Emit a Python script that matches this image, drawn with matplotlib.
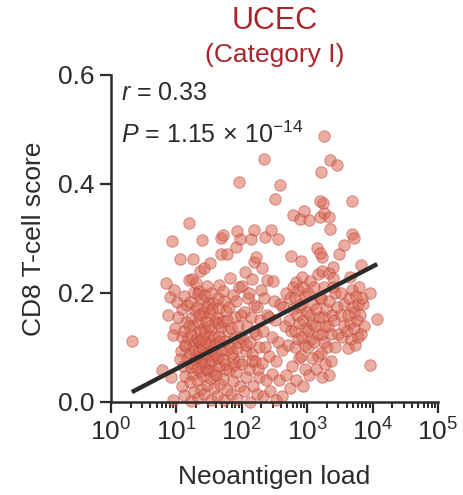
import numpy as np
import matplotlib
matplotlib.use("Agg")
import matplotlib.pyplot as plt
from matplotlib.ticker import FixedLocator, LogLocator, NullFormatter

plt.rcParams["font.family"] = ["Liberation Sans", "DejaVu Sans"]
plt.rcParams["mathtext.fontset"] = "custom"
plt.rcParams["mathtext.rm"] = "Liberation Sans"
plt.rcParams["mathtext.it"] = "Liberation Sans:italic"

# ── Data: (log10 neoantigen load, CD8 T-cell score) ─────────────────────────

low_load = [
    (0.32, 0.112), (0.78, 0.058), (0.84, 0.218), (0.90, 0.193), (0.88, 0.160),
    (0.94, 0.295), (0.95, 0.004), (0.92, 0.046), (0.97, 0.205), (1.01, 0.183),
    (1.02, 0.156), (0.98, 0.136), (0.95, 0.123), (1.09, 0.119), (1.06, 0.262),
]

mid_load = [
    # 10^1.1
    (1.12, 0.012), (1.08, 0.030), (1.14, 0.047), (1.10, 0.066), (1.16, 0.081),
    (1.07, 0.093), (1.13, 0.104), (1.18, 0.117), (1.11, 0.131), (1.15, 0.146),
    (1.08, 0.170), (1.17, 0.178), (1.12, 0.194), (1.19, 0.224), (1.19, 0.328),
    (1.14, 0.102), (1.06, 0.078),
    # 10^1.2
    (1.22, 0.002), (1.27, 0.018), (1.21, 0.036), (1.26, 0.052), (1.23, 0.064),
    (1.29, 0.077), (1.21, 0.089), (1.25, 0.100), (1.28, 0.112), (1.22, 0.124),
    (1.26, 0.139), (1.23, 0.154), (1.29, 0.168), (1.21, 0.183), (1.27, 0.202),
    (1.24, 0.226), (1.26, 0.262), (1.28, 0.095), (1.24, 0.071), (1.20, 0.140),
    # 10^1.3
    (1.33, 0.008), (1.37, 0.024), (1.31, 0.041), (1.36, 0.056), (1.39, 0.069),
    (1.32, 0.083), (1.35, 0.094), (1.38, 0.106), (1.31, 0.118), (1.36, 0.131),
    (1.33, 0.146), (1.39, 0.160), (1.32, 0.175), (1.37, 0.189), (1.34, 0.204),
    (1.30, 0.219), (1.36, 0.241), (1.39, 0.297), (1.34, 0.112), (1.38, 0.081),
    (1.31, 0.062), (1.35, 0.160), (1.33, 0.198),
    # 10^1.4
    (1.42, 0.015), (1.47, 0.031), (1.41, 0.048), (1.46, 0.061), (1.43, 0.074),
    (1.49, 0.087), (1.41, 0.098), (1.45, 0.109), (1.48, 0.121), (1.42, 0.135),
    (1.46, 0.149), (1.43, 0.165), (1.49, 0.181), (1.44, 0.196), (1.47, 0.212),
    (1.42, 0.246), (1.45, 0.087), (1.40, 0.115), (1.48, 0.058), (1.44, 0.128),
    (1.47, 0.175),
    # 10^1.5
    (1.53, 0.004), (1.57, 0.026), (1.51, 0.044), (1.56, 0.059), (1.52, 0.072),
    (1.58, 0.084), (1.54, 0.096), (1.50, 0.107), (1.57, 0.119), (1.53, 0.133),
    (1.59, 0.148), (1.51, 0.163), (1.56, 0.181), (1.53, 0.199), (1.52, 0.255),
    (1.55, 0.077), (1.58, 0.102), (1.50, 0.140), (1.54, 0.170), (1.59, 0.050),
    # 10^1.6
    (1.62, 0.010), (1.67, 0.032), (1.61, 0.050), (1.66, 0.066), (1.63, 0.080),
    (1.69, 0.093), (1.61, 0.107), (1.65, 0.121), (1.68, 0.138), (1.62, 0.156),
    (1.66, 0.172), (1.64, 0.190), (1.69, 0.272), (1.69, 0.300), (1.60, 0.088),
    (1.67, 0.112), (1.63, 0.145), (1.65, 0.215),
    # 10^1.7
    (1.73, 0.004), (1.77, 0.022), (1.71, 0.042), (1.76, 0.060), (1.72, 0.078),
    (1.78, 0.095), (1.74, 0.112), (1.79, 0.130), (1.71, 0.148), (1.76, 0.166),
    (1.73, 0.185), (1.77, 0.271), (1.71, 0.306), (1.74, 0.070), (1.78, 0.150),
    (1.72, 0.203),
    # 10^1.8
    (1.83, 0.015), (1.87, 0.038), (1.81, 0.058), (1.86, 0.080), (1.82, 0.100),
    (1.88, 0.118), (1.84, 0.136), (1.89, 0.155), (1.81, 0.175), (1.86, 0.196),
    (1.82, 0.227), (1.91, 0.285), (1.85, 0.090), (1.88, 0.068),
    # 10^1.9
    (1.93, 0.005), (1.97, 0.030), (1.91, 0.055), (1.96, 0.075), (1.92, 0.098),
    (1.98, 0.120), (1.94, 0.140), (1.99, 0.160), (1.91, 0.185), (1.96, 0.210),
    (1.98, 0.298), (1.96, 0.403), (1.93, 0.314), (1.95, 0.110),
    # 10^2.0
    (2.03, 0.020), (2.07, 0.045), (2.01, 0.070), (2.06, 0.094), (2.02, 0.115),
    (2.08, 0.140), (2.04, 0.165), (2.09, 0.190), (2.01, 0.213), (2.05, 0.238),
    (2.07, 0.105),
    # 10^2.1
    (2.13, 0.000), (2.17, 0.030), (2.11, 0.060), (2.16, 0.088), (2.12, 0.110),
    (2.18, 0.130), (2.14, 0.155), (2.19, 0.178), (2.11, 0.200), (2.16, 0.225),
    (2.19, 0.256), (2.14, 0.298), (2.18, 0.316), (2.15, 0.075),
    # 10^2.2 - 10^2.6
    (2.23, 0.015), (2.27, 0.046), (2.21, 0.075), (2.26, 0.100), (2.22, 0.125),
    (2.28, 0.150), (2.24, 0.175), (2.29, 0.205), (2.22, 0.265), (2.25, 0.060),
    (2.33, 0.010), (2.37, 0.040), (2.31, 0.072), (2.36, 0.100), (2.32, 0.130),
    (2.38, 0.160), (2.34, 0.190), (2.38, 0.224), (2.31, 0.245), (2.36, 0.302),
    (2.34, 0.446),
    (2.43, 0.020), (2.47, 0.052), (2.42, 0.085), (2.46, 0.120), (2.41, 0.155),
    (2.49, 0.185), (2.48, 0.221), (2.44, 0.316),
    (2.53, 0.004), (2.57, 0.040), (2.52, 0.075), (2.56, 0.110), (2.51, 0.150),
    (2.58, 0.180), (2.56, 0.298), (2.51, 0.372), (2.58, 0.397),
    (2.62, 0.010), (2.67, 0.050), (2.61, 0.095), (2.66, 0.140), (2.63, 0.175),
    (2.68, 0.200),
]

high_load = [
    # 10^2.7
    (2.73, 0.025), (2.77, 0.065), (2.71, 0.105), (2.76, 0.130), (2.72, 0.150),
    (2.78, 0.170), (2.74, 0.190), (2.79, 0.210), (2.75, 0.268), (2.79, 0.343),
    # 10^2.8
    (2.83, 0.040), (2.87, 0.080), (2.81, 0.100), (2.86, 0.115), (2.82, 0.130),
    (2.88, 0.145), (2.84, 0.160), (2.89, 0.175), (2.81, 0.190), (2.86, 0.205),
    (2.83, 0.220), (2.91, 0.259), (2.89, 0.336),
    # 10^2.9
    (2.93, 0.030), (2.97, 0.060), (2.91, 0.085), (2.96, 0.105), (2.92, 0.120),
    (2.98, 0.135), (2.94, 0.150), (2.99, 0.165), (2.91, 0.180), (2.96, 0.195),
    (2.93, 0.210), (2.92, 0.230), (2.95, 0.351),
    # 10^3.0
    (3.03, 0.050), (3.07, 0.080), (3.01, 0.100), (3.06, 0.115), (3.02, 0.130),
    (3.08, 0.145), (3.04, 0.160), (3.09, 0.180), (3.01, 0.200), (3.05, 0.221),
    (3.03, 0.333),
    # 10^3.1
    (3.13, 0.060), (3.17, 0.085), (3.11, 0.110), (3.16, 0.125), (3.12, 0.140),
    (3.18, 0.155), (3.14, 0.170), (3.19, 0.190), (3.11, 0.210), (3.16, 0.235),
    (3.15, 0.282),
    # 10^3.2
    (3.23, 0.045), (3.27, 0.070), (3.21, 0.090), (3.26, 0.110), (3.22, 0.125),
    (3.28, 0.140), (3.24, 0.155), (3.29, 0.170), (3.21, 0.190), (3.26, 0.210),
    (3.23, 0.240), (3.23, 0.266), (3.20, 0.340), (3.25, 0.347), (3.24, 0.364),
    (3.20, 0.368), (3.21, 0.422), (3.25, 0.488), (3.20, 0.273),
    # 10^3.3
    (3.33, 0.050), (3.37, 0.075), (3.31, 0.100), (3.36, 0.125), (3.32, 0.140),
    (3.38, 0.160), (3.34, 0.185), (3.39, 0.210), (3.33, 0.236), (3.35, 0.317),
    (3.34, 0.340), (3.35, 0.443),
    # 10^3.4 - 10^3.8
    (3.43, 0.100), (3.47, 0.125), (3.41, 0.150), (3.46, 0.175), (3.42, 0.200),
    (3.40, 0.227), (3.40, 0.248), (3.46, 0.434),
    (3.53, 0.120), (3.57, 0.140), (3.51, 0.160), (3.56, 0.180), (3.52, 0.200),
    (3.49, 0.271), (3.56, 0.288),
    (3.63, 0.098), (3.67, 0.115), (3.61, 0.130), (3.66, 0.145), (3.62, 0.160),
    (3.68, 0.175), (3.64, 0.190), (3.69, 0.205), (3.66, 0.230), (3.68, 0.308),
    (3.69, 0.369),
    (3.73, 0.105), (3.77, 0.120), (3.71, 0.135), (3.76, 0.150), (3.72, 0.165),
    (3.78, 0.180), (3.74, 0.195), (3.79, 0.210), (3.71, 0.300),
    (3.83, 0.125), (3.87, 0.140), (3.81, 0.160), (3.86, 0.180), (3.84, 0.190),
    (3.82, 0.252),
    (3.96, 0.067), (3.96, 0.199), (4.07, 0.152),
]

# regression line (y = intercept + slope * log10 x) as drawn in the figure
fit_slope     = 0.0626
fit_intercept = -0.002
r_value       = "0.33"
p_mantissa    = "1.15"
p_exponent    = -14

x_decades     = [0, 1, 2, 3, 4, 5]
y_ticks       = [0.0, 0.2, 0.4, 0.6]

points   = np.array(low_load + mid_load + high_load)
log_load = points[:, 0]
score    = points[:, 1]
load     = np.power(10.0, log_load)

# ── Plot ──────────────────────────────────────────────────────────────────────

ink       = "#2b2b2b"
title_red = "#a8262a"

fig = plt.figure(figsize=(4.64, 4.95), dpi=100)
ax  = fig.add_axes([0.239, 0.188, 0.705, 0.661])

ax.scatter(load, score, s=68, facecolor="#d86a55", edgecolor="#c0443a",
           linewidth=0.7, alpha=0.55, clip_on=False, zorder=2)

fit_x = np.array([load.min(), load.max()])
fit_y = fit_intercept + fit_slope * np.log10(fit_x)
ax.plot(fit_x, fit_y, color=ink, linewidth=3.2, solid_capstyle="butt", zorder=3)

ax.set_xscale("log")
ax.set_xlim(1, 1e5)
ax.set_ylim(0, 0.6)

ax.xaxis.set_major_locator(FixedLocator([10.0 ** d for d in x_decades]))
ax.xaxis.set_minor_locator(LogLocator(base=10, subs=np.arange(2, 10), numticks=20))
ax.xaxis.set_minor_formatter(NullFormatter())
ax.set_xticklabels([rf"$10^{{{d}}}$" for d in x_decades])
ax.set_yticks(y_ticks)
ax.set_yticklabels([f"{v:.1f}" for v in y_ticks])

for side in ["top", "right"]:
    ax.spines[side].set_visible(False)
for side in ["left", "bottom"]:
    ax.spines[side].set_linewidth(1.8)
    ax.spines[side].set_color(ink)

ax.tick_params(axis="both", which="major", direction="out", length=8, width=1.6,
               color=ink, labelcolor=ink, labelsize=19, pad=4)
ax.tick_params(axis="x", which="minor", direction="out", length=4.5, width=1.4, color=ink)

ax.set_xlabel("Neoantigen load", fontsize=19, color=ink, labelpad=14)
ax.set_ylabel("CD8 T-cell score", fontsize=19, color=ink, labelpad=8)

ax.text(0.03, 0.945, rf"$r$ = {r_value}", transform=ax.transAxes, fontsize=18,
        color=ink, va="center", ha="left")
exp_txt = str(p_exponent).replace("-", "\u2212")
ax.text(0.03, 0.815, rf"$P$ = {p_mantissa}$\,\times\,$10$^{{{exp_txt}}}$",
        transform=ax.transAxes, fontsize=18, color=ink, va="center", ha="left")

fig.text(0.593, 0.958, "UCEC", fontsize=22, color=title_red, ha="center", va="center")
fig.text(0.593, 0.888, "(Category I)", fontsize=19, color=title_red, ha="center", va="center")

fig.savefig("out.png", dpi=100)
